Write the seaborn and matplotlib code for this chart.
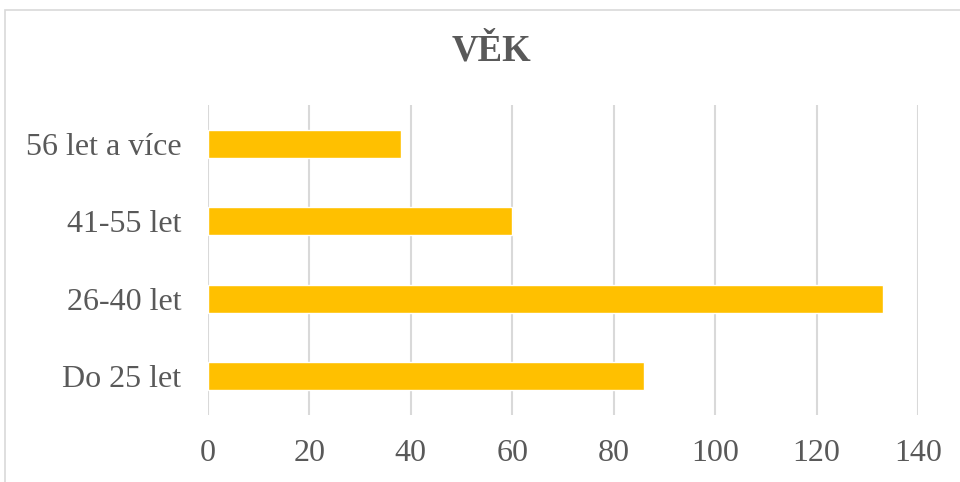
import matplotlib
matplotlib.use("Agg")
import matplotlib.pyplot as plt
import matplotlib.patches as patches
import seaborn as sns
import pandas as pd

# data
categories = ["56 let a více", "41-55 let", "26-40 let", "Do 25 let"]
values = [38, 60, 133, 86]
xticks = [0, 20, 40, 60, 80, 100, 120, 140]

sns.set_style("white")
plt.rcParams['font.family'] = ['Liberation Serif', 'DejaVu Serif']

text_color = "#595959"
grid_color = "#D9D9D9"
bar_color = "#FFC000"

df = pd.DataFrame({"kategorie": categories, "pocet": values})

fig = plt.figure(figsize=(9.6, 4.82), dpi=100)
ax = fig.add_axes([208 / 960, 1 - 415 / 482, 710 / 960, 310 / 482])

sns.barplot(data=df, x="pocet", y="kategorie", order=categories,
            color=bar_color, width=0.36, saturation=1, ax=ax, zorder=3)

ax.set_xlim(0, 140)
ax.set_xticks(xticks)
ax.set_xlabel("")
ax.set_ylabel("")
for s in ax.spines.values():
    s.set_visible(False)
for t in xticks:
    ax.axvline(t, color=grid_color, lw=1.5, zorder=1)

ax.tick_params(axis="x", length=0, pad=17, labelsize=23, labelcolor=text_color)
ax.tick_params(axis="y", length=0, pad=19, labelsize=23, labelcolor=text_color)

# titulek
fig.text(491 / 960, 1 - 51 / 482, "VĚK", ha="center", va="center",
         fontsize=26.5, fontweight="bold", color=text_color)

# ramecek grafu
frame = patches.Rectangle((4.5 / 960, -0.1), 1.2, 1 - 9.5 / 482 + 0.1,
                          transform=fig.transFigure, fill=False,
                          edgecolor=grid_color, lw=1.2)
fig.patches.append(frame)

fig.savefig("out.png", dpi=100)
plt.close(fig)
